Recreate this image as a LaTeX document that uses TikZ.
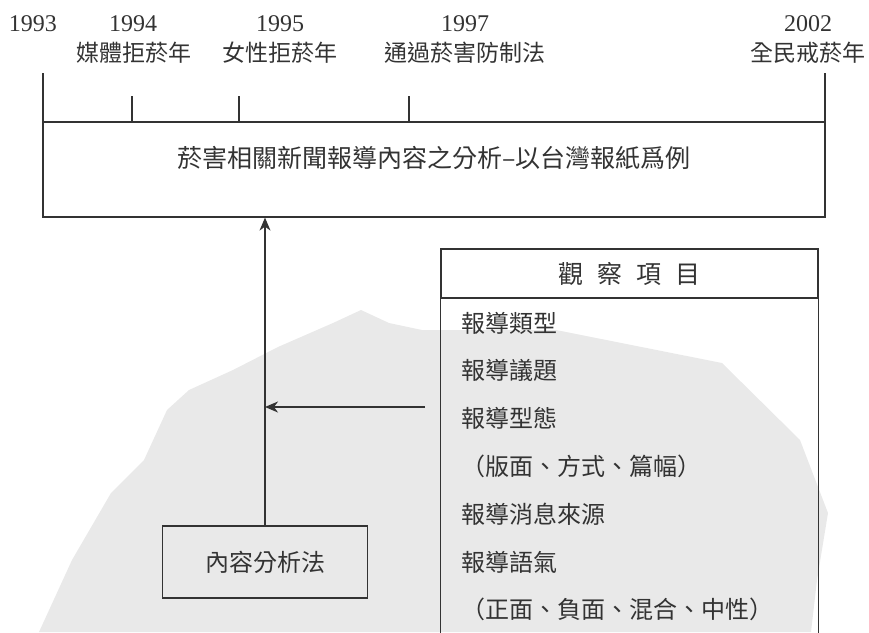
\documentclass[tikz,border=0pt]{standalone}
\usepackage{fontspec}
\setmainfont{Liberation Serif}
\newfontfamily\cjk{Noto Sans CJK TC}
\usepackage{tikz}
\usetikzlibrary{arrows.meta}
\usetikzlibrary{positioning}
\definecolor{ink}{gray}{0.2}
\definecolor{wm}{gray}{0.915}
\tikzset{yr/.style = {font = \fontsize{24}{24}\selectfont, text = ink, inner sep = 0}}
\tikzset{ev/.style = {font = \cjk\fontsize{23}{23}\selectfont, text = ink, inner sep = 0}}
\tikzset{box/.style = {draw = ink, line width = 1.2pt, rectangle, inner sep = 0}}
\tikzset{item/.style = {font = \cjk\fontsize{24}{24}\selectfont, text = ink, inner sep = 0, anchor = west}}
\tikzset{feedarr/.style = {draw = ink, line width = 1.4pt, -{Stealth[length = 13pt, width = 11pt, inset = 4pt]}}}

\begin{document}
\begin{tikzpicture}[x=1pt, y=-1pt, line width=1.2pt, draw=ink]
    \useasboundingbox (0,0) rectangle (869,632);
    % watermark in the scan
    \fill [wm] (39,632) -- (72,560) -- (111,493) -- (144,460) -- (167,410) -- (189,390)
      -- (233,370) -- (278,347) -- (333,323) -- (361,310) -- (389,323) -- (422,330)
      -- (556,330) -- (722,363) -- (800,440) -- (828,513) -- (817,580) -- (811,632) -- cycle;
    % timeline
    \foreach \x/\t in {43/73, 132/96, 239/96, 409/96, 825/73}{
      \draw [ink] (\x,122) -- (\x,\t);
    }
    \node [yr] (y93) at (33,24) {1993};
    \node [yr] (y94) at (133,24) {1994};
    \node [yr] (y95) at (280,24) {1995};
    \node [yr] (y97) at (465,24) {1997};
    \node [yr] (y02) at (808,24) {2002};
    \node [ev] (e94) at (134,53) {媒體拒菸年};
    \node [ev] (e95) at (280,53) {女性拒菸年};
    \node [ev] (e97) at (465,53) {通過菸害防制法};
    \node [ev] (e02) at (808,53) {全民戒菸年};
    % study
    \node [box, minimum width = 782, minimum height = 95] (study) at (434,169.5) {};
    \node [item, anchor = center, font = \cjk\fontsize{25}{25}\selectfont] (title) at (434,158)
      {菸害相關新聞報導內容之分析–以台灣報紙爲例};
    % method
    \node [box, minimum width = 205, minimum height = 72, font = \cjk\fontsize{24}{24}\selectfont, text = ink]
      (method) at (265,562) {內容分析法};
    \draw [feedarr] (method.north) -- (method.north |- study.south);
    % observation items
    \node [box, minimum width = 377, minimum height = 49, font = \cjk\fontsize{25}{25}\selectfont, text = ink]
      (obshead) at (629.5,273.5) {觀\hspace{14pt}察\hspace{14pt}項\hspace{14pt}目};
    \draw [ink] (obshead.south west) -- ++(0,360);
    \draw [ink] (obshead.south east) -- ++(0,360);
    \foreach \txt [count = \i] in {報導類型, 報導議題, 報導型態, （版面、方式、篇幅）,
                                   報導消息來源, 報導語氣, （正面、負面、混合、中性）}{
      \node [item] (obs\i) at (461, 323 + 47.8*\i - 47.8) {\txt};
    }
    \coordinate (feed) at (425,407);
    \draw [feedarr] (feed) -- (feed -| method.north);
  \end{tikzpicture}
\end{document}
